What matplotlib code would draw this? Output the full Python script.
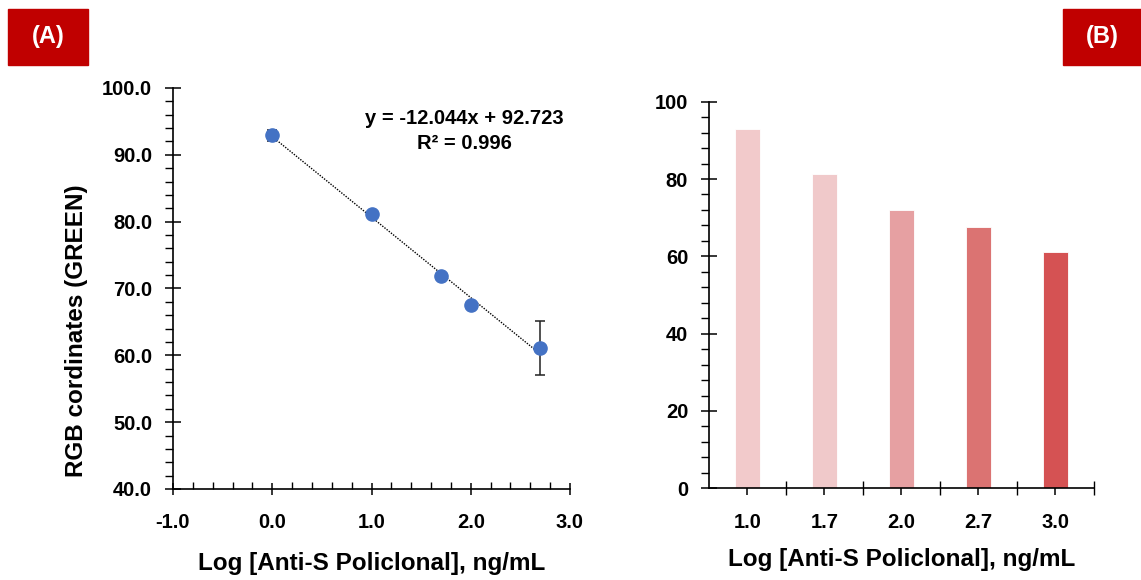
import numpy as np
import matplotlib
matplotlib.use("Agg")
import matplotlib.pyplot as plt
from matplotlib.ticker import MultipleLocator, FixedLocator

# ── Datos ────────────────────────────────────────────────────────────────
log_conc = [0.0, 1.0, 1.7, 2.0, 2.7]
green_mean = [92.9, 81.1, 71.9, 67.5, 61.1]
green_sd = [0.8, 0.3, 0.3, 0.3, 4.0]
fit_slope = -12.044
fit_intercept = 92.723
fit_r2 = 0.996

bar_labels = ["1.0", "1.7", "2.0", "2.7", "3.0"]
bar_values = [92.9, 81.3, 72.0, 67.6, 61.2]
bar_colors = ["#F2CACB", "#F0C9CA", "#E6A0A2", "#DB7372", "#D55253"]

RED_TAG = "#C00000"
POINT_BLUE = "#4472C4"
X_LABEL = "Log [Anti-S Policlonal], ng/mL"

plt.rcParams.update({
    "font.family": ["Liberation Sans", "DejaVu Sans"],
    "font.weight": "bold",
    "axes.linewidth": 1.2,
    "xtick.major.width": 1.1,
    "ytick.major.width": 1.1,
    "xtick.minor.width": 1.0,
    "ytick.minor.width": 1.0,
})

W, H = 1141, 580
fig = plt.figure(figsize=(W / 100, H / 100), dpi=100)


def px_axes(x0, y0, x1, y1):
    """Crea un eje a partir de coordenadas en píxeles (origen arriba-izquierda)."""
    return fig.add_axes([x0 / W, 1 - y1 / H, (x1 - x0) / W, (y1 - y0) / H])


def clean_spines(ax):
    for s in ("top", "right"):
        ax.spines[s].set_visible(False)


# ── (A) curva de calibración ─────────────────────────────────────────────
ax1 = px_axes(173, 88, 570, 489)
clean_spines(ax1)
ax1.set_xlim(-1, 3)
ax1.set_ylim(40, 100)

xs = np.array(log_conc)
fit_x = np.array([xs.min(), xs.max()])
ax1.plot(fit_x, fit_slope * fit_x + fit_intercept, color="black",
         linestyle=(0, (1, 1)), linewidth=1.0, zorder=2)
ax1.errorbar(log_conc, green_mean, yerr=green_sd, fmt="o", color=POINT_BLUE,
             markersize=9.5, ecolor="#222222", elinewidth=1.1, capsize=3.5,
             capthick=1.1, zorder=3)

ax1.xaxis.set_major_locator(MultipleLocator(1))
ax1.xaxis.set_minor_locator(MultipleLocator(0.2))
ax1.yaxis.set_major_locator(MultipleLocator(10))
ax1.yaxis.set_minor_locator(MultipleLocator(2))
ax1.xaxis.set_major_formatter(lambda v, p: f"{v:.1f}")
ax1.yaxis.set_major_formatter(lambda v, p: f"{v:.1f}")
ax1.tick_params(axis="x", which="major", direction="inout", length=9, pad=13, labelsize=14.5)
ax1.tick_params(axis="x", which="minor", direction="in", length=5)
ax1.tick_params(axis="y", which="major", direction="inout", length=12, pad=9, labelsize=14.5)
ax1.tick_params(axis="y", which="minor", direction="out", length=6)

ax1.set_xlabel(X_LABEL, fontsize=17.5, fontweight="bold", labelpad=14)
ax1.set_ylabel("RGB cordinates (GREEN)", fontsize=17.5, fontweight="bold")
ax1.yaxis.set_label_coords(-0.213, 0.395)

ax1.text(0.735, 0.893, f"y = {fit_slope:.3f}x + {fit_intercept:.3f}\nR\u00b2 = {fit_r2:.3f}",
         transform=ax1.transAxes, ha="center", va="center", fontsize=14.5,
         fontweight="bold", linespacing=1.35)

# ── (B) barras por concentración ─────────────────────────────────────────
ax2 = px_axes(709, 101.7, 1094, 488.3)
clean_spines(ax2)
pos = np.arange(len(bar_labels))
ax2.bar(pos, bar_values, width=0.32, color=bar_colors, edgecolor="white",
        linewidth=0.6, zorder=2)
ax2.set_xlim(-0.5, len(bar_labels) - 0.5)
ax2.set_ylim(0, 100)

ax2.set_xticks(pos)
ax2.set_xticklabels(bar_labels)
ax2.xaxis.set_minor_locator(FixedLocator(np.arange(len(bar_labels)) + 0.5))
ax2.yaxis.set_major_locator(MultipleLocator(20))
ax2.yaxis.set_minor_locator(MultipleLocator(4))
ax2.tick_params(axis="x", which="major", direction="out", length=5, pad=13, labelsize=14.5)
ax2.tick_params(axis="x", which="minor", direction="inout", length=10)
ax2.tick_params(axis="y", which="major", direction="inout", length=12, pad=9, labelsize=14.5)
ax2.tick_params(axis="y", which="minor", direction="out", length=6)
ax2.set_xlabel(X_LABEL, fontsize=17.5, fontweight="bold", labelpad=11)

# ── Etiquetas de panel ───────────────────────────────────────────────────
for label, x0, x1 in (("(A)", 8, 88), ("(B)", 1063, 1141)):
    fig.patches.append(plt.Rectangle((x0 / W, 1 - 65 / H), (x1 - x0) / W, 56 / H,
                                     transform=fig.transFigure, color=RED_TAG, zorder=0))
    fig.text((x0 + x1) / 2 / W, 1 - 37 / H, label, color="white", fontsize=17,
             fontweight="bold", ha="center", va="center")

fig.savefig("out.png", dpi=100, facecolor="white")
